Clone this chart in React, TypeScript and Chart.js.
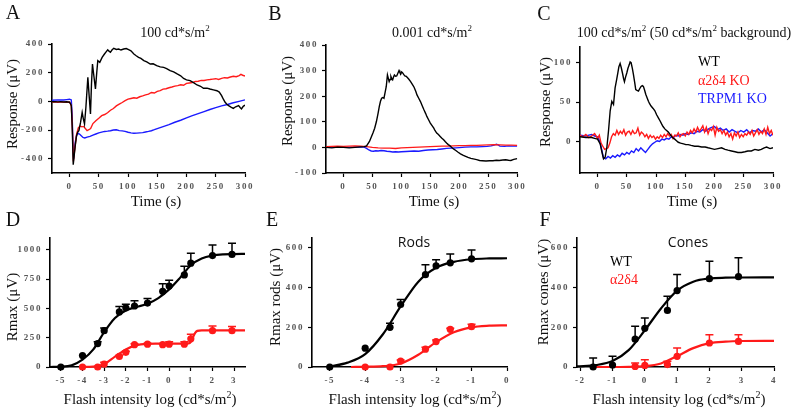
import React, { useEffect, useRef } from "react";
import { Chart, registerables } from "chart.js";

Chart.register(...registerables);

// ---------------- DATA ----------------
// Panel A (100 cd*s/m2): [time s, response uV]
const A_WT: [number, number][] = [[-30,-3],[-25,-2],[-20,-4],[-15,-3],[-10,-5],[-5,-3],[0,-6],[2,-20],[3,-30],[4.5,-170],[6.3,-442],[8.5,-356],[10,-300],[12,-240],[14,-215],[16,-205],[18.8,-147],[21.6,-77],[23.5,-120],[25.6,-158],[28,-40],[31.3,167],[33.5,40],[35.8,-88],[37.5,120],[39.2,260],[41.5,180],[44.3,86],[46.5,200],[48.3,284],[51.7,272],[55.7,307],[59.7,330],[62.5,345],[65.3,360],[67.5,350],[69.9,342],[72.5,358],[75.6,370],[80,362],[84,365],[88,358],[92.6,365],[97,368],[101,360],[105,352],[110,330],[114,318],[118,307],[122,300],[127,284],[132,275],[138,260],[143,262],[149,249],[155,240],[161,237],[166,228],[172,214],[178,205],[184,191],[190,178],[195,160],[200,150],[206,144],[212,130],[218,114],[224,105],[229,91],[235,92],[240,86],[246,80],[252,74],[256,65],[260,40],[263,15],[266,-7],[269,-20],[272,-30],[276,-40],[280,-49],[284,-38],[289,-30],[292,-45],[294,-53],[297,-35],[300,-26]];
const A_A2D4: [number, number][] = [[-30,-5],[-25,-3],[-20,-6],[-15,-4],[-10,-5],[-5,-7],[0,-5],[3,-30],[5,-200],[6.5,-420],[9,-330],[12,-230],[15,-185],[18,-172],[21,-178],[24,-175],[27,-190],[30,-205],[33,-198],[36,-190],[40,-155],[45,-135],[50,-118],[55,-100],[60,-92],[65,-80],[70,-62],[75,-50],[80,-32],[85,-20],[90,-8],[95,5],[100,15],[105,20],[110,25],[115,22],[120,32],[125,38],[130,45],[135,50],[140,62],[145,58],[150,70],[155,75],[160,85],[165,88],[170,95],[175,100],[180,106],[185,110],[190,116],[195,112],[200,125],[205,128],[210,131],[215,138],[220,140],[225,146],[230,145],[235,150],[240,152],[245,155],[250,158],[255,153],[260,160],[265,165],[270,163],[275,170],[280,175],[285,172],[290,180],[293,188],[296,182],[300,176]];
const A_TRPM1: [number, number][] = [[-30,8],[-20,10],[-10,9],[-5,12],[0,15],[3,10],[4.5,-100],[6,-330],[7,-400],[8.5,-330],[10,-280],[12,-240],[14,-222],[17,-228],[20,-240],[23,-252],[26,-256],[30,-250],[35,-245],[40,-236],[45,-228],[50,-220],[55,-215],[60,-210],[65,-208],[70,-205],[75,-200],[80,-198],[85,-204],[90,-206],[95,-210],[100,-216],[105,-220],[110,-223],[115,-222],[120,-220],[125,-218],[130,-214],[135,-210],[140,-205],[145,-198],[150,-190],[160,-176],[170,-162],[180,-146],[190,-132],[200,-116],[210,-100],[220,-86],[230,-72],[240,-57],[250,-44],[260,-32],[270,-22],[280,-10],[290,0],[300,10]];

// Panel B (0.001 cd*s/m2)
const B_WT: [number, number][] = [[-30,0],[-20,-2],[-10,1],[0,0],[10,-2],[20,0],[30,2],[36,3],[40,6],[45,23],[48,40],[51,56],[54,75],[57,101],[60,135],[62,160],[64,180],[66,192],[68,195],[70,192],[72,215],[74,238],[76,283],[77.5,270],[79,257],[80.5,265],[82,277],[83.5,268],[85,264],[86.5,275],[88,283],[90,278],[92,279],[94,290],[96,300],[97.5,292],[99,287],[100.5,295],[102,292],[104,285],[106,279],[108,278],[110,274],[113,266],[116,257],[119,246],[122,235],[125,218],[127,205],[130,192],[133,179],[136,163],[139,147],[142,132],[144,121],[147,108],[150,95],[153,85],[156,75],[158,66],[161,56],[164,50],[167,43],[170,36],[173,30],[176,22],[178,17],[181,11],[184,6],[187,0],[190,-6],[194,-12],[198,-19],[202,-25],[207,-31],[211,-35],[215,-39],[220,-43],[224,-45],[230,-48],[235,-51],[240,-52],[246,-53],[252,-52],[258,-52],[264,-50],[269,-51],[275,-49],[280,-48],[285,-50],[289,-51],[294,-47],[300,-44]];
const B_A2D4: [number, number][] = [[-30,3],[-20,4],[-10,5],[0,4],[10,5],[20,6],[30,5],[40,3],[50,0],[60,-2],[70,-3],[80,-3],[90,-4],[100,-2],[110,-1],[120,0],[130,1],[140,2],[150,3],[160,4],[170,5],[180,5],[190,6],[200,7],[210,7],[220,8],[230,8],[240,9],[250,10],[260,11],[270,10],[280,9],[290,9],[300,8]];
const B_TRPM1: [number, number][] = [[-30,1],[-20,0],[-10,2],[0,1],[10,0],[20,1],[30,2],[36,1],[40,-4],[44,-10],[48,-14],[52,-15],[56,-13],[60,-14],[65,-12],[70,-13],[75,-15],[80,-16],[85,-18],[90,-17],[95,-18],[100,-17],[108,-16],[115,-15],[122,-14],[130,-15],[138,-12],[146,-10],[154,-9],[162,-8],[170,-6],[178,-4],[186,-3],[194,-2],[200,-1],[210,1],[220,2],[230,2],[240,3],[248,4],[255,6],[260,9],[264,12],[267,10],[270,5],[278,4],[285,6],[292,5],[300,5]];

// Panel C (100 cd*s/m2 on 50 cd*s/m2 background)
const C_WT: [number, number][] = [[-30,6],[-20,5],[-10,5],[-5,4],[0,3],[4.5,-3],[7.4,-13],[10.2,-22],[13,-20],[16,-7],[18.8,14],[21.6,39],[24.4,51],[27.3,47],[30,68],[32.5,78],[34.7,87],[36.5,95],[38.6,99],[40.5,94],[42.6,87],[44.5,80],[46,76],[48,82],[50,87],[52,93],[54,97],[55.7,101],[57.4,100],[59.5,93],[61.4,85],[63.5,75],[65.3,66],[67.5,65],[70,64],[72,67],[74.4,70],[76.5,71],[78.4,70],[80.5,65],[82.4,60],[85,55],[87,51],[89,48],[91.5,45],[95,42],[98,39],[101,34],[104,30],[107,26],[109.7,22],[112,19],[115,16],[118,14],[121,12],[124,9],[127,6],[130,4],[132,3],[135,1],[138,-1],[142,-2],[147,-3],[151,-4],[155,-4],[160,-5],[166,-6],[172,-6],[178,-7],[184,-7],[189,-8],[195,-9],[200,-10],[206,-9],[212,-8],[218,-10],[223,-11],[229,-12],[235,-13],[240,-14],[246,-14],[252,-13],[257,-12],[263,-12],[269,-10],[275,-11],[280,-10],[285,-8],[289,-7],[295,-9],[300,-8]];
const C_A2D4: [number, number][] = [[-30,8],[-25,6],[-20,9],[-15,5],[-10,7],[-5,10],[0,4],[3,8],[6,-2],[9,-6],[12,-10],[15,-9],[18,-8],[21,-2],[24,6],[27,10],[30,8],[33,14],[36,9],[39,13],[42,10],[45,15],[48,8],[51,12],[54,13],[57,9],[60,14],[63,10],[66,11],[69,17],[72,8],[75,12],[78,10],[81,6],[84,9],[87,4],[90,8],[93,5],[96,7],[99,3],[102,6],[105,4],[108,8],[111,5],[114,9],[117,6],[120,10],[123,7],[126,9],[129,4],[132,8],[135,7],[138,11],[141,6],[144,9],[147,10],[150,7],[153,12],[156,9],[159,14],[162,11],[165,16],[168,12],[171,18],[174,13],[177,16],[180,20],[183,12],[186,18],[189,10],[192,16],[195,14],[198,19],[201,8],[204,18],[207,13],[210,15],[213,10],[216,14],[219,8],[222,12],[225,6],[228,10],[231,3],[234,11],[237,7],[240,12],[243,5],[246,9],[249,6],[252,10],[255,8],[258,12],[261,9],[264,14],[267,7],[270,11],[273,15],[276,9],[279,13],[282,10],[285,16],[288,9],[291,18],[294,10],[297,14],[300,8]];
const C_TRPM1: [number, number][] = [[-30,8],[-20,7],[-10,9],[-5,7],[0,6],[4,0],[7,-10],[10,-20],[14,-22],[18,-19],[22,-21],[26,-18],[30,-20],[34,-17],[38,-19],[42,-15],[46,-17],[50,-14],[54,-16],[58,-12],[62,-14],[66,-9],[70,-12],[74,-8],[78,-11],[82,-14],[86,-10],[90,-6],[94,-3],[98,-1],[102,1],[106,0],[110,3],[114,2],[118,4],[122,3],[126,6],[130,5],[134,8],[138,7],[142,9],[146,8],[150,10],[155,9],[160,11],[165,10],[170,13],[175,12],[180,15],[185,13],[190,16],[195,18],[200,19],[205,15],[210,17],[215,14],[220,16],[225,12],[230,15],[235,13],[240,11],[245,14],[250,12],[255,15],[260,11],[265,14],[270,13],[275,16],[280,12],[285,15],[290,11],[295,7],[300,10]];

// Panel D (Rmax vs flash intensity)
const D_X_WT = [-5, -4, -3.3, -3, -2.3, -2, -1.6, -1, -0.3, 0, 0.7, 1, 2, 2.9];
const D_WT = [0, 97, 200, 310, 470, 505, 520, 545, 645, 690, 785, 885, 950, 960];
const D_WT_ERR = [0, 0, 15, 22, 45, 30, 45, 40, 65, 50, 75, 85, 90, 95];
const D_X_A2D4 = [-4, -3.3, -3, -2.3, -2, -1.6, -1, -0.3, 0, 0.7, 1, 2, 2.9];
const D_A2D4 = [0, 0, 25, 90, 125, 190, 195, 190, 195, 195, 240, 310, 310];
const D_A2D4_ERR = [0, 0, 15, 10, 10, 8, 8, 8, 20, 20, 40, 40, 35];
const D_FIT_WT_X = [-5.5, -5, -4.5, -4, -3.5, -3, -2.5, -2, -1.5, -1, -0.5, 0, 0.5, 1, 1.5, 2, 2.5, 3, 3.5];
const D_FIT_WT = [0, 2, 14, 62, 150, 298, 418, 482, 512, 540, 588, 662, 760, 868, 925, 950, 960, 963, 965];
const D_FIT_A2D4_X = [-4.1, -3.5, -3, -2.5, -2, -1.5, -1, -0.5, 0, 0.5, 0.9, 1.0, 1.1, 1.2, 1.3, 1.5, 2, 2.5, 3, 3.5];
const D_FIT_A2D4 = [0, 3, 24, 88, 150, 186, 197, 199, 200, 200, 202, 215, 255, 290, 308, 312, 312, 312, 312, 312];

// Panel E (rods)
const E_X_WT = [-5, -4, -3.3, -3, -2.3, -2, -1.6, -1];
const E_WT = [0, 95, 200, 315, 465, 510, 525, 545];
const E_WT_ERR = [0, 0, 20, 25, 50, 30, 45, 45];
const E_X_A2D4 = [-4, -3.3, -3, -2.3, -2, -1.6, -1];
const E_A2D4 = [0, 0, 30, 90, 128, 190, 203];
const E_A2D4_ERR = [0, 0, 5, 10, 8, 5, 12];
const E_FIT_WT_X = [-5, -4.5, -4, -3.5, -3, -2.5, -2, -1.5, -1, -0.5, 0];
const E_FIT_WT = [2, 22, 65, 165, 305, 430, 500, 530, 543, 547, 548];
const E_FIT_A2D4_X = [-4.4, -4, -3.5, -3, -2.5, -2, -1.5, -1, -0.5, 0];
const E_FIT_A2D4 = [0, 1, 4, 18, 62, 125, 175, 200, 208, 210];

// Panel F (cones)
const F_X_WT = [-1.6, -1, -0.3, 0, 0.7, 1, 2, 2.9];
const F_WT = [0, 10, 140, 195, 285, 385, 445, 455];
const F_WT_ERR = [45, 44, 65, 52, 71, 81, 88, 95];
const F_X_A2D4 = [-0.3, 0, 0.7, 1, 2, 2.9];
const F_A2D4 = [3, 8, 12, 54, 121, 129];
const F_A2D4_ERR = [17, 29, 17, 42, 42, 34];
const F_FIT_WT_X = [-2.1, -1.5, -1, -0.5, 0, 0.5, 1, 1.5, 2, 2.5, 3, 4];
const F_FIT_WT = [3, 10, 30, 85, 185, 295, 385, 430, 446, 450, 451, 452];
const F_FIT_A2D4_X = [-1.65, -1, -0.5, 0, 0.5, 1, 1.5, 2, 2.5, 3, 4];
const F_FIT_A2D4 = [0, 0, 1, 4, 18, 55, 95, 120, 128, 131, 132];

// Tick values
const TIME_TICKS = [0, 50, 100, 150, 200, 250, 300];
const A_Y_TICKS = [-400, -200, 0, 200, 400];
const B_Y_TICKS = [-100, 0, 100, 200, 300, 400];
const C_Y_TICKS = [0, 50, 100];
const D_X_TICKS = [-5, -4, -3, -2, -1, 0, 1, 2, 3];
const D_Y_TICKS = [0, 250, 500, 750, 1000];
const E_X_TICKS = [-5, -4, -3, -2, -1, 0];
const EF_Y_TICKS = [0, 200, 400, 600];
const F_X_TICKS = [-2, -1, 0, 1, 2, 3, 4];

// ---------------- STYLE ----------------
const SERIF = '"Liberation Serif", "Times New Roman", serif';
const SANS = '"Open Sans", "Liberation Sans", sans-serif';
const BLACK = "#000000";
const RED = "#ff1a1a";
const BLUE = "#1a1aff";

const pairs = (arr: [number, number][]) => arr.map(([x, y]) => ({ x, y }));
const zip = (xs: number[], ys: number[]) => xs.map((x, i) => ({ x, y: ys[i] }));

const trace = (arr: [number, number][], color: string) => ({
  data: pairs(arr),
  showLine: true,
  borderColor: color,
  backgroundColor: color,
  borderWidth: 1.4,
  pointRadius: 0,
  pointHoverRadius: 0,
  tension: 0,
});
const fit = (xs: number[], ys: number[], color: string) => ({
  data: zip(xs, ys),
  showLine: true,
  borderColor: color,
  backgroundColor: color,
  borderWidth: 2.2,
  pointRadius: 0,
  pointHoverRadius: 0,
  cubicInterpolationMode: "monotone",
  clip: false,
});
const dots = (xs: number[], ys: number[], errs: number[], color: string) => ({
  data: zip(xs, ys),
  showLine: false,
  borderColor: color,
  backgroundColor: color,
  borderWidth: 0,
  pointRadius: 3.6,
  pointHoverRadius: 3.6,
  clip: false,
  errors: errs,
});

type Part = { t: string; sup?: boolean };
type TextItem = {
  parts: Part[];
  x: number;
  y: number;
  size: number;
  color?: string;
  align?: "left" | "center";
  rotate?: boolean;
  family?: string;
};
const T = (s: string): Part[] => [{ t: s }];
const UNIT_M2: Part[] = [{ t: "Flash intensity log (cd*s/m" }, { t: "2", sup: true }, { t: ")" }];

const makeTextPlugin = (items: TextItem[]) => ({
  id: "panelTexts",
  afterDraw(chart: any) {
    const ctx = chart.ctx;
    items.forEach((it) => {
      ctx.save();
      ctx.letterSpacing = "0px";
      ctx.fillStyle = it.color || "#111";
      ctx.textBaseline = "middle";
      ctx.textAlign = "left";
      const fam = it.family || SERIF;
      const fontFor = (p: Part) => `${p.sup ? Math.round(it.size * 0.66) : it.size}px ${fam}`;
      const widths = it.parts.map((p) => {
        ctx.font = fontFor(p);
        return ctx.measureText(p.t).width;
      });
      const total = widths.reduce((a, b) => a + b, 0);
      ctx.translate(it.x, it.y);
      if (it.rotate) ctx.rotate(-Math.PI / 2);
      let cx = it.align === "left" ? 0 : -total / 2;
      it.parts.forEach((p, i) => {
        ctx.font = fontFor(p);
        ctx.fillText(p.t, cx, p.sup ? -it.size * 0.33 : 0);
        cx += widths[i];
      });
      ctx.restore();
    });
  },
});

const errorBarPlugin = {
  id: "errorBars",
  beforeDatasetsDraw(chart: any) {
    const ctx = chart.ctx;
    const xs = chart.scales.x;
    const ys = chart.scales.y;
    chart.data.datasets.forEach((ds: any) => {
      if (!ds.errors) return;
      ctx.save();
      ctx.strokeStyle = ds.borderColor;
      ctx.lineWidth = 1.5;
      ds.data.forEach((p: any, i: number) => {
        const e = ds.errors[i];
        if (!e) return;
        const px = xs.getPixelForValue(p.x);
        const py = ys.getPixelForValue(p.y);
        const pt = ys.getPixelForValue(p.y + e);
        ctx.beginPath();
        ctx.moveTo(px, py);
        ctx.lineTo(px, pt);
        ctx.moveTo(px - 4, pt);
        ctx.lineTo(px + 4, pt);
        ctx.stroke();
      });
      ctx.restore();
    });
  },
};

const tickSpacingPlugin = {
  id: "tickSpacing",
  beforeDraw(chart: any) {
    chart.ctx.letterSpacing = "1.6px";
  },
};

type Panel = {
  box: [number, number, number, number];
  plot: [number, number, number, number];
  xMin: number;
  xMax: number;
  xTicks: number[];
  yMin: number;
  yMax: number;
  yTicks: number[];
  datasets: any[];
  texts: TextItem[];
};

const axis = (min: number, max: number, ticks: number[], fitFn: (s: any) => void) => ({
  type: "linear",
  min,
  max,
  border: { display: true, color: "#000", width: 1.6 },
  grid: {
    display: true,
    drawOnChartArea: false,
    drawTicks: true,
    tickLength: 4,
    tickColor: "#000",
    tickWidth: 1.2,
  },
  ticks: {
    font: { family: SERIF, size: 9, weight: "bold" },
    color: "#555",
    padding: 4,
    autoSkip: false,
    maxRotation: 0,
    callback: (v: number) => String(v),
  },
  afterBuildTicks: (s: any) => {
    s.ticks = ticks.map((v) => ({ value: v }));
  },
  afterFit: fitFn,
});

const makeConfig = (p: Panel) => {
  const [bx, by, bw, bh] = p.box;
  const [pl, pt, pr, pb] = p.plot;
  const yW = pl - bx;
  const padTop = pt - by;
  const padRight = bx + bw - pr;
  const xH = by + bh - pb;
  return {
    type: "scatter",
    data: { datasets: p.datasets },
    options: {
      responsive: false,
      animation: false,
      devicePixelRatio: 1,
      events: [],
      layout: { padding: { left: 0, top: padTop, right: padRight, bottom: 0 } },
      plugins: { legend: { display: false }, tooltip: { enabled: false }, title: { display: false } },
      scales: {
        x: axis(p.xMin, p.xMax, p.xTicks, (s: any) => {
          s.height = xH;
        }),
        y: axis(p.yMin, p.yMax, p.yTicks, (s: any) => {
          s.width = yW;
        }),
      },
    },
    plugins: [tickSpacingPlugin, errorBarPlugin, makeTextPlugin(p.texts)],
  };
};

const PANELS: Panel[] = [
  {
    box: [0, 0, 262, 212],
    plot: [52, 44, 245, 173],
    xMin: -30, xMax: 300, xTicks: TIME_TICKS,
    yMin: -500, yMax: 400, yTicks: A_Y_TICKS,
    datasets: [trace(A_WT, BLACK), trace(A_A2D4, RED), trace(A_TRPM1, BLUE)],
    texts: [
      { parts: T("A"), x: 13, y: 14, size: 20 },
      { parts: [{ t: "100 cd*s/m" }, { t: "2", sup: true }], x: 175, y: 33, size: 14 },
      { parts: T("Response (μV)"), x: 13, y: 104, size: 15, rotate: true },
      { parts: T("Time (s)"), x: 156, y: 202, size: 15 },
    ],
  },
  {
    box: [262, 0, 266, 212],
    plot: [326, 45, 518, 173],
    xMin: -30, xMax: 300, xTicks: TIME_TICKS,
    yMin: -100, yMax: 400, yTicks: B_Y_TICKS,
    datasets: [trace(B_WT, BLACK), trace(B_A2D4, RED), trace(B_TRPM1, BLUE)],
    texts: [
      { parts: T("B"), x: 13, y: 15, size: 20 },
      { parts: [{ t: "0.001 cd*s/m" }, { t: "2", sup: true }], x: 170, y: 33, size: 14 },
      { parts: T("Response (μV)"), x: 26, y: 101, size: 15, rotate: true },
      { parts: T("Time (s)"), x: 172, y: 202, size: 15 },
    ],
  },
  {
    box: [528, 0, 272, 212],
    plot: [580, 47, 773, 173],
    xMin: -30, xMax: 300, xTicks: TIME_TICKS,
    yMin: -40, yMax: 120, yTicks: C_Y_TICKS,
    datasets: [trace(C_WT, BLACK), trace(C_A2D4, RED), trace(C_TRPM1, BLUE)],
    texts: [
      { parts: T("C"), x: 16, y: 15, size: 20 },
      {
        parts: [
          { t: "100 cd*s/m" }, { t: "2", sup: true }, { t: " (50 cd*s/m" }, { t: "2", sup: true }, { t: " background)" },
        ],
        x: 156, y: 33, size: 14,
      },
      { parts: T("Response (μV)"), x: 18, y: 102, size: 15, rotate: true },
      { parts: T("Time (s)"), x: 164, y: 202, size: 15 },
      { parts: T("WT"), x: 170, y: 62, size: 14, align: "left", color: BLACK },
      { parts: T("α2δ4 KO"), x: 170, y: 81, size: 14, align: "left", color: RED },
      { parts: T("TRPM1 KO"), x: 170, y: 99, size: 14, align: "left", color: BLUE },
    ],
  },
  {
    box: [0, 212, 262, 203],
    plot: [50, 238, 245, 367],
    xMin: -5.5, xMax: 3.5, xTicks: D_X_TICKS,
    yMin: 0, yMax: 1100, yTicks: D_Y_TICKS,
    datasets: [
      dots(D_X_WT, D_WT, D_WT_ERR, BLACK),
      dots(D_X_A2D4, D_A2D4, D_A2D4_ERR, RED),
      fit(D_FIT_WT_X, D_FIT_WT, BLACK),
      fit(D_FIT_A2D4_X, D_FIT_A2D4, RED),
    ],
    texts: [
      { parts: T("D"), x: 13, y: 9, size: 20 },
      { parts: T("Rmax (μV)"), x: 13, y: 95, size: 15, rotate: true },
      { parts: UNIT_M2, x: 150, y: 188, size: 15 },
    ],
  },
  {
    box: [262, 212, 266, 203],
    plot: [312, 238, 507, 367],
    xMin: -5.5, xMax: 0, xTicks: E_X_TICKS,
    yMin: 0, yMax: 650, yTicks: EF_Y_TICKS,
    datasets: [
      dots(E_X_WT, E_WT, E_WT_ERR, BLACK),
      dots(E_X_A2D4, E_A2D4, E_A2D4_ERR, RED),
      fit(E_FIT_WT_X, E_FIT_WT, BLACK),
      fit(E_FIT_A2D4_X, E_FIT_A2D4, RED),
    ],
    texts: [
      { parts: T("E"), x: 10, y: 9, size: 20 },
      { parts: T("Rmax rods (μV)"), x: 14, y: 85, size: 15, rotate: true },
      { parts: T("Rods"), x: 152, y: 31, size: 14, family: SANS },
      { parts: UNIT_M2, x: 153, y: 188, size: 15 },
    ],
  },
  {
    box: [528, 212, 272, 203],
    plot: [577, 238, 774, 367],
    xMin: -2.1, xMax: 4, xTicks: F_X_TICKS,
    yMin: 0, yMax: 650, yTicks: EF_Y_TICKS,
    datasets: [
      dots(F_X_WT, F_WT, F_WT_ERR, BLACK),
      dots(F_X_A2D4, F_A2D4, F_A2D4_ERR, RED),
      fit(F_FIT_WT_X, F_FIT_WT, BLACK),
      fit(F_FIT_A2D4_X, F_FIT_A2D4, RED),
    ],
    texts: [
      { parts: T("F"), x: 17, y: 9, size: 20 },
      { parts: T("Rmax cones (μV)"), x: 16, y: 80, size: 15, rotate: true },
      { parts: T("Cones"), x: 160, y: 31, size: 14, family: SANS },
      { parts: T("WT"), x: 82, y: 50, size: 14, align: "left", color: BLACK },
      { parts: T("α2δ4"), x: 82, y: 68, size: 14, align: "left", color: RED },
      { parts: UNIT_M2, x: 151, y: 188, size: 15 },
    ],
  },
];

export default function App() {
  const refs = useRef<(HTMLCanvasElement | null)[]>([]);
  useEffect(() => {
    const charts = PANELS.map((p, i) => new Chart(refs.current[i] as HTMLCanvasElement, makeConfig(p) as any));
    return () => charts.forEach((c) => c.destroy());
  }, []);
  return (
    <div style={{ position: "fixed", left: 0, top: 0, width: 800, height: 415, background: "#fff", overflow: "hidden" }}>
      {PANELS.map((p, i) => (
        <canvas
          key={i}
          ref={(el) => {
            refs.current[i] = el;
          }}
          width={p.box[2]}
          height={p.box[3]}
          style={{ position: "absolute", left: p.box[0], top: p.box[1], width: p.box[2], height: p.box[3] }}
        />
      ))}
    </div>
  );
}
